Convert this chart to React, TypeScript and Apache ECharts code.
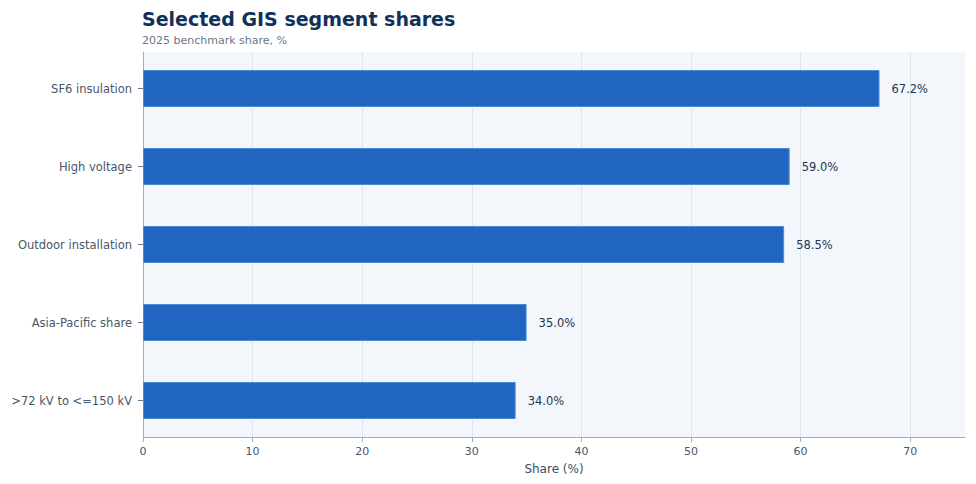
import { useEffect, useRef } from 'react';
import * as echarts from 'echarts';

const categories = ['>72 kV to <=150 kV', 'Asia-Pacific share', 'Outdoor installation', 'High voltage', 'SF6 insulation'];
const shares = [34.0, 35.0, 58.5, 59.0, 67.2];
const xTicks = [0, 10, 20, 30, 40, 50, 60, 70];

const FONT = '"DejaVu Sans", sans-serif';
const AXIS_COLOR = '#9aafc8';

export default function App() {
  const chartRef = useRef<HTMLDivElement>(null);

  useEffect(() => {
    if (!chartRef.current) return;
    document.body.style.margin = '0';
    const instance = echarts.init(chartRef.current, undefined, { renderer: 'svg' });

    instance.setOption({
      animation: false,
      textStyle: { fontFamily: FONT },
      title: {
        text: 'Selected GIS segment shares',
        subtext: '2025 benchmark share, %',
        left: 137,
        top: 4,
        itemGap: 7,
        textStyle: { fontSize: 19, fontWeight: 'bold', color: '#12315a', fontFamily: FONT },
        subtextStyle: { fontSize: 11, color: '#6b7786', fontFamily: FONT },
      },
      // grid 0: plot background, x axis, y axis line; grid 1: category bands for the bars
      grid: [
        {
          left: 143,
          right: 11,
          top: 52,
          bottom: 47,
          show: true,
          backgroundColor: '#f3f7fc',
          borderWidth: 0,
        },
        { left: 143, right: 11, top: 49.5, bottom: 44.5 },
      ],
      xAxis: [
        {
          type: 'value',
          gridIndex: 0,
          min: 0,
          max: 75,
          interval: 10,
          name: 'Share (%)',
          nameLocation: 'middle',
          nameGap: 26,
          nameTextStyle: { fontSize: 12, color: '#3d4b5e' },
          axisLine: { show: true, lineStyle: { color: AXIS_COLOR } },
          axisTick: { show: true, length: 5, customValues: xTicks, lineStyle: { color: AXIS_COLOR } },
          axisLabel: { fontSize: 11, color: '#4a5668', margin: 9, customValues: xTicks },
          splitLine: { show: true, lineStyle: { color: '#dde5f0' } },
        },
        {
          type: 'value',
          gridIndex: 1,
          min: 0,
          max: 75,
          show: false,
        },
      ],
      yAxis: [
        {
          type: 'category',
          gridIndex: 0,
          data: categories,
          axisLine: { show: true, lineStyle: { color: AXIS_COLOR } },
          axisTick: { show: false },
          axisLabel: { show: false },
          splitLine: { show: false },
        },
        {
          type: 'category',
          gridIndex: 1,
          data: categories,
          axisLine: { show: false },
          axisTick: { show: true, alignWithLabel: true, length: 5, lineStyle: { color: '#6b7786' } },
          axisLabel: { fontSize: 11.5, color: '#4a5668', margin: 11 },
          splitLine: { show: false },
        },
      ],
      series: [
        {
          type: 'bar',
          xAxisIndex: 1,
          yAxisIndex: 1,
          data: shares,
          barWidth: 37,
          itemStyle: { color: '#2066c1', borderColor: '#4d8ad6', borderWidth: 1 },
          label: {
            show: true,
            position: 'right',
            distance: 12,
            formatter: (p: { value: number }) => `${p.value.toFixed(1)}%`,
            fontSize: 11.5,
            color: '#1f3550',
          },
        },
      ],
    });

    return () => {
      instance.dispose();
    };
  }, []);

  return <div ref={chartRef} style={{ width: 976, height: 484 }} />;
}
